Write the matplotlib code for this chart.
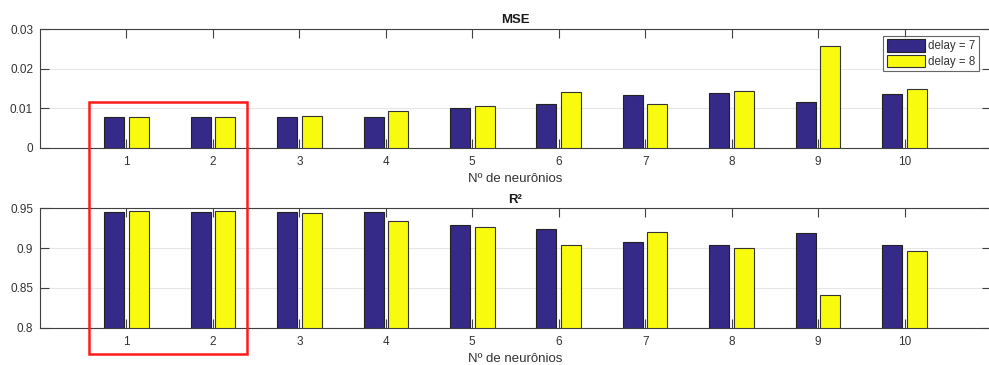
import numpy as np
import matplotlib.pyplot as plt
from matplotlib.patches import Rectangle

plt.rcParams['font.family'] = ['Liberation Sans', 'DejaVu Sans']

neurons = np.arange(1, 11)
labels = ['delay = 7', 'delay = 8']
mse_d7 = [0.0078, 0.0078, 0.0078, 0.0078, 0.0101, 0.0110, 0.0133, 0.0139, 0.0117, 0.0136]
mse_d8 = [0.0078, 0.0078, 0.0081, 0.0094, 0.0105, 0.0142, 0.0112, 0.0144, 0.0258, 0.0150]
r2_d7 = [0.9455, 0.9455, 0.9455, 0.9455, 0.9285, 0.9243, 0.9080, 0.9040, 0.9190, 0.9040]
r2_d8 = [0.9465, 0.9465, 0.9440, 0.9340, 0.9260, 0.9035, 0.9205, 0.9005, 0.8405, 0.8960]

blue = '#352a87'
yellow = '#f9fb0e'
axcol = '#404040'
W, H = 989, 365

fig = plt.figure(figsize=(W / 100, H / 100), dpi=100)


def style(ax, ylim, yticks, yticklabels, title):
    ax.set_xlim(0, 11)
    ax.set_ylim(*ylim)
    ax.set_xticks(neurons)
    ax.set_yticks(yticks)
    ax.set_yticklabels(yticklabels)
    ax.tick_params(direction='in', length=6.5, width=0.8, color=axcol,
                   labelcolor='#333333', labelsize=8.5,
                   top=True, right=True, pad=5)
    ax.tick_params(axis='x', pad=6)
    for s in ax.spines.values():
        s.set_color(axcol)
        s.set_linewidth(0.8)
    ax.yaxis.grid(True, color='#e6e6e6', linewidth=0.8)
    ax.set_axisbelow(True)
    ax.set_xlabel('Nº de neurônios', fontsize=9.5, color='#333333', labelpad=3.5)
    ax.set_title(title, fontsize=9.5, fontweight='bold', color='#1a1a1a', pad=4)


def bars(ax, a, b, base):
    off, w = 0.142, 0.232
    ax.bar(neurons - off, np.array(a) - base, w, bottom=base, color=blue,
           edgecolor='#222222', linewidth=0.8, label=labels[0], zorder=3)
    ax.bar(neurons + off, np.array(b) - base, w, bottom=base, color=yellow,
           edgecolor='#333333', linewidth=0.8, label=labels[1], zorder=3)


# MSE
ax1 = fig.add_axes([40 / W, (H - 148) / H, 951 / W, 119 / H])
bars(ax1, mse_d7, mse_d8, 0)
style(ax1, (0, 0.03), [0, 0.01, 0.02, 0.03], ['0', '0.01', '0.02', '0.03'], 'MSE')
leg = ax1.legend(loc='upper right', bbox_to_anchor=(979 / W, (H - 36) / H),
                 bbox_transform=fig.transFigure, fontsize=8.3, frameon=True,
                 fancybox=False, handlelength=3.3, handleheight=1.25,
                 borderpad=0.3, labelspacing=0.2, handletextpad=0.3,
                 borderaxespad=0)
leg.get_frame().set_edgecolor(axcol)
leg.get_frame().set_linewidth(0.8)
for t in leg.get_texts():
    t.set_color('#333333')

# R²
ax2 = fig.add_axes([40 / W, (H - 327.7) / H, 951 / W, 119.4 / H])
bars(ax2, r2_d7, r2_d8, 0.8)
style(ax2, (0.8, 0.95), [0.8, 0.85, 0.9, 0.95], ['0.8', '0.85', '0.9', '0.95'], 'R²')

# highlight around the first two groups
fig.patches.append(Rectangle((89 / W, (H - 354) / H), 158 / W, 252 / H,
                             transform=fig.transFigure, fill=False,
                             edgecolor='#ff1a1a', linewidth=1.8, zorder=10))

fig.savefig('out.png', dpi=100)
